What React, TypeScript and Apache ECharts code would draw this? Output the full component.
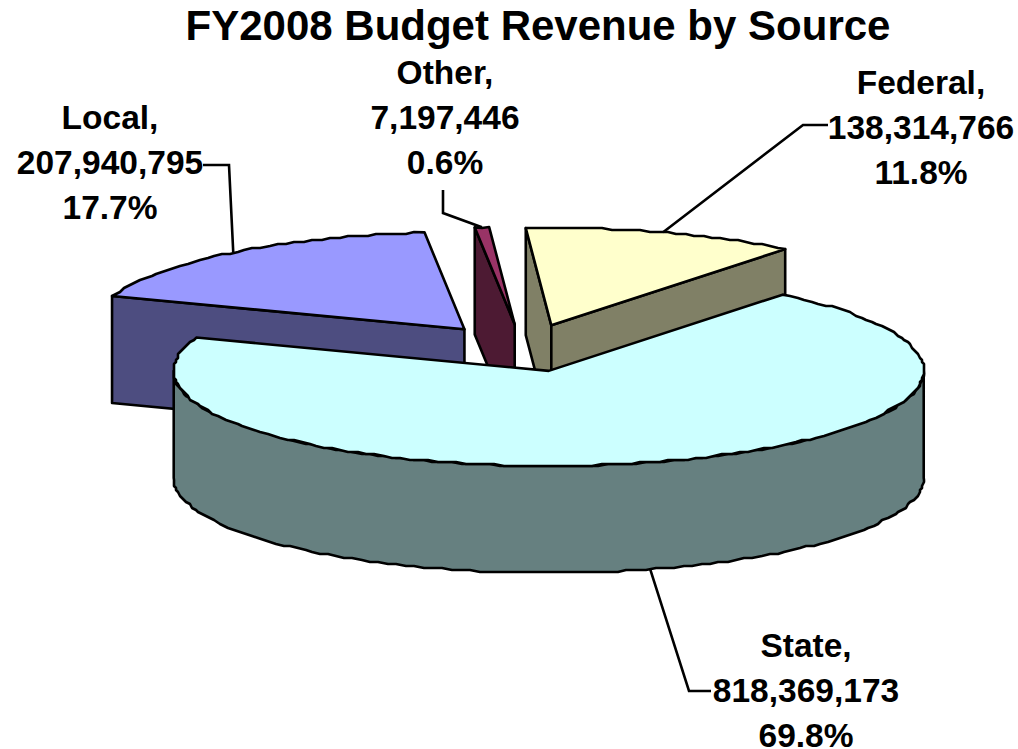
import React, { useEffect, useRef } from "react";
import * as echarts from "echarts";

const titleText = "FY2008 Budget Revenue by Source";
// Listed clockwise from the slice that starts at the back-left; later slices paint over earlier ones.
const categories = ["Local", "Other", "Federal", "State"];
const values = [207940795, 7197446, 138314766, 818369173];
const topColors = ["#9999FF", "#993366", "#FFFFCC", "#CCFFFF"];
const wallColors = ["#4D4D80", "#4D1A33", "#808066", "#668080"];
const labelAnchors = [
  [110, 117],
  [445, 72],
  [921, 82],
  [806, 645],
];
const leaderBends = [
  [[229, 165], [203, 165]],
  [[443, 213], [443, 190]],
  [[803, 125], [828, 125]],
  [[689, 691], [711, 691]],
];

const START_DEG = 290;
const CX = 523;
const CY = 348;
const RX = 375;
const TILT = 0.25;
const TILT_BACK = 0.26;
const TILT_FRONT = 0.2533;
const DEPTH = 107;
const EXPLODE = 95;
const STEP_DEG = 1.5;
const GRID = 2;
const LINE = 2.6;

const total = values.reduce((a, b) => a + b, 0);
const rad = (d: number) => (d * Math.PI) / 180;
const snap = (v: number) => Math.round(v / GRID) * GRID;
const rimY = (d: number) => {
  const c = Math.cos(rad(d));
  return RX * (c > 0 ? TILT_BACK : TILT_FRONT) * c;
};

function App() {
  const ref = useRef<HTMLDivElement>(null);
  useEffect(() => {
    const chart = echarts.init(ref.current!, undefined, { renderer: "svg" });
    const renderItem = (params: any, api: any) => {
      const i = params.dataIndex;
      const value = api.value(0);
      let before = 0;
      for (let k = 0; k < i; k++) before += values[k];
      const a = START_DEG + (before / total) * 360;
      const sweep = (value / total) * 360;
      const b = a + sweep;
      const mid = (a + b) / 2;
      const ox = CX + EXPLODE * Math.sin(rad(mid));
      const oy = CY - EXPLODE * TILT * Math.cos(rad(mid));
      const rim = (d: number, dz = 0, quant = true) => {
        const x = ox + RX * Math.sin(rad(d));
        const y = oy - rimY(d) + dz;
        return quant ? [snap(x), snap(y)] : [x, y];
      };
      const arc = (from: number, to: number, dz = 0) => {
        const pts: number[][] = [];
        const n = Math.max(1, Math.ceil((to - from) / STEP_DEG));
        for (let k = 0; k <= n; k++) {
          const d = from + ((to - from) * k) / n;
          pts.push(rim(d, dz, k !== 0 && k !== n ? true : false));
        }
        return pts;
      };
      const style = (fill: string) => ({ fill, stroke: "#000", lineWidth: LINE, lineJoin: "round" });
      const children: any[] = [];
      const face = (d: number) => {
        const p = rim(d, 0, false);
        children.push({
          type: "polygon",
          shape: { points: [[ox, oy], p, [p[0], p[1] + DEPTH], [ox, oy + DEPTH]] },
          style: style(wallColors[i]),
        });
      };
      if (Math.sin(rad(a)) < 0) face(a);
      if (Math.sin(rad(b)) > 0) face(b);
      // outer wall: only the part that faces the viewer
      for (const base of [0, 360]) {
        const from = Math.max(a, base + 90);
        const to = Math.min(b, base + 270);
        if (to > from) {
          const upper = arc(from, to, 0);
          const lower = arc(from, to, DEPTH).reverse();
          children.push({
            type: "polygon",
            shape: { points: upper.concat(lower) },
            style: style(wallColors[i]),
          });
        }
      }
      children.push({
        type: "polygon",
        shape: { points: [[ox, oy] as number[]].concat(arc(a, b)) },
        style: style(topColors[i]),
      });
      return { type: "group", children };
    };
    const renderLabels = (params: any, api: any) => {
      const i = params.dataIndex;
      const value = api.value(0);
      let before = 0;
      for (let k = 0; k < i; k++) before += values[k];
      const mid = START_DEG + ((before + value / 2) / total) * 360;
      const ox = CX + EXPLODE * Math.sin(rad(mid));
      const oy = CY - EXPLODE * TILT * Math.cos(rad(mid));
      const front = Math.cos(rad(mid)) < 0;
      const start = [
        ox + RX * Math.sin(rad(mid)),
        oy - rimY(mid) + (front ? DEPTH : 0),
      ];
      const [ax, ay] = labelAnchors[i];
      const text = `${categories[i]},\n${value.toLocaleString("en-US")}\n${((value / total) * 100).toFixed(1)}%`;
      return {
        type: "group",
        children: [
          {
            type: "polyline",
            shape: { points: [start, ...leaderBends[i]] },
            style: { fill: "none", stroke: "#000", lineWidth: LINE },
          },
          {
            type: "text",
            x: ax,
            y: ay - 22,
            style: {
              text,
              align: "center",
              verticalAlign: "top",
              fill: "#000",
              font: 'bold 33.5px "Liberation Sans", Arial, sans-serif',
              lineHeight: 45,
            },
          },
        ],
      };
    };
    const data = values.map((v, i) => ({ name: categories[i], value: [v] }));
    chart.setOption({
      animation: false,
      backgroundColor: "#fff",
      title: {
        text: titleText,
        left: 538,
        top: 4,
        padding: 0,
        textAlign: "center",
        textStyle: {
          fontFamily: '"Liberation Sans", Arial, sans-serif',
          fontWeight: "bold",
          fontSize: 42,
          color: "#000",
        },
      },
      series: [
        { type: "custom", coordinateSystem: "none", silent: true, data, renderItem, z: 2 },
        { type: "custom", coordinateSystem: "none", silent: true, data, renderItem: renderLabels, z: 3 },
      ],
    });
    return () => chart.dispose();
  }, []);
  return <div ref={ref} style={{ width: 1018, height: 749, position: "absolute", left: 0, top: 0 }} />;
}

export default App;
